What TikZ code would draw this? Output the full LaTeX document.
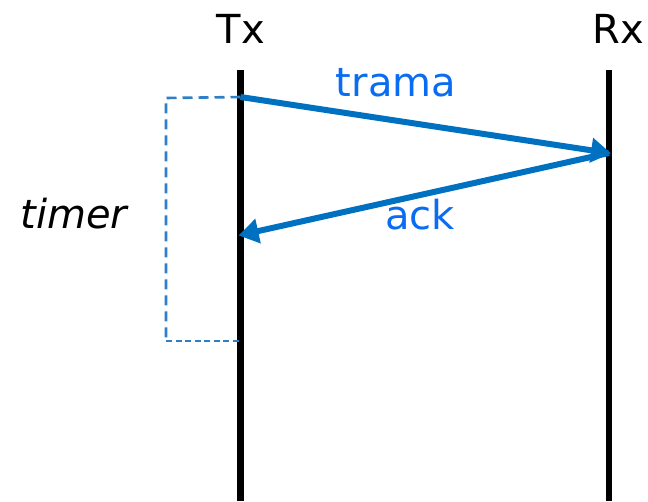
\documentclass[tikz,border=0pt]{standalone}
\usepackage{fontspec}
\setmainfont{DejaVu Sans}
\usetikzlibrary{arrows.meta}
\definecolor{arrblue}{HTML}{0070C0}
\definecolor{txtblue}{HTML}{0A6CF0}
\definecolor{dashblue}{HTML}{2E7FC8}
\begin{document}
\begin{tikzpicture}[x=1pt,y=-1pt,
  lbl/.style={inner sep=0pt,anchor=base,font=\fontsize{40}{42}\selectfont},
  lifeline/.style={line width=6.5pt,black},
  msg/.style={line width=6pt,arrblue,-{Triangle[length=20pt,width=24pt]},shorten >=-2pt},
  timerline/.style={dashblue,dashed,dash pattern=on 10pt off 6pt,line width=2.6pt}]
\useasboundingbox (0,0) rectangle (648,501);
% lifeline ends
\coordinate (txtop) at (240.5,70);
\coordinate (txbot) at (240.5,501);
\coordinate (rxtop) at (609,70);
\coordinate (rxbot) at (609,501);
\coordinate (send) at (240.5,97);
\coordinate (recv) at (609,153);
\coordinate (back) at (240.5,235);
\coordinate (tl) at (166,98);
\coordinate (bl) at (166,341);
\coordinate (br) at (240.5,341);
\draw[lifeline] (txtop) -- (txbot);
\draw[lifeline] (rxtop) -- (rxbot);
\node[lbl] (tx) at (241,43) {Tx};
\node[lbl] (rx) at (618,43) {Rx};
\node[lbl,txtblue] (trama) at (396,96) {trama};
\node[lbl,txtblue] (ack) at (420,229) {ack};
\node[lbl,font=\fontsize{40}{42}\selectfont\itshape] (timer) at (74,228) {timer};
\draw[timerline] (send) -- (tl) -- (bl);
\draw[timerline,line width=1.6pt,dash pattern=on 6pt off 3.5pt] (bl) -- (br);
\draw[msg] (send) -- (recv);
\draw[msg] (recv) -- (back);
\end{tikzpicture}
\end{document}
